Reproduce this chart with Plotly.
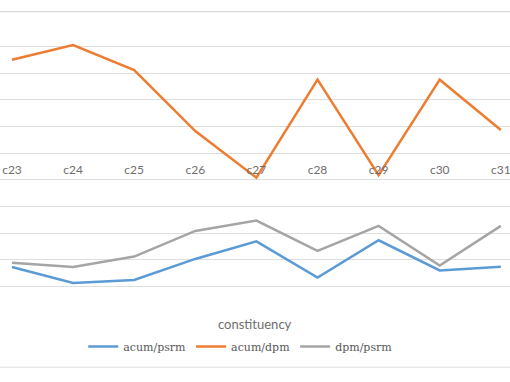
import plotly.graph_objects as go

categories = ["c23", "c24", "c25", "c26", "c27", "c28", "c29", "c30", "c31"]
acum_psrm = [-4.27, -4.87, -4.76, -3.97, -3.31, -4.67, -3.27, -4.40, -4.26]
acum_dpm = [3.51, 4.06, 3.12, 0.83, -0.92, 2.76, -0.83, 2.76, 0.87]
dpm_psrm = [-4.11, -4.27, -3.88, -2.92, -2.53, -3.67, -2.73, -4.22, -2.73]

series = [
    ("acum/psrm", acum_psrm, "#5B9BD5"),
    ("acum/dpm", acum_dpm, "#ED7D31"),
    ("dpm/psrm", dpm_psrm, "#A5A5A5"),
]

fig = go.Figure()
for name, vals, color in series:
    fig.add_trace(go.Scatter(x=categories, y=vals, name=name, mode="lines",
                             line=dict(color=color, width=2.5)))

fig.update_layout(
    width=510, height=382,
    margin=dict(l=0, r=0, t=20, b=69, pad=0),
    paper_bgcolor="white", plot_bgcolor="white",
    showlegend=True,
    legend=dict(orientation="h", x=0.472, xanchor="center", y=-0.114, yanchor="middle",
                font=dict(family="DejaVu Serif", size=11, color="#595959"),
                itemwidth=30, tracegroupgap=0),
    xaxis=dict(type="category", range=[-0.196, 8.15], anchor="free", position=0.5455,
               showline=False, showgrid=False, ticks="", zeroline=False,
               ticklabelstandoff=8,
               tickfont=dict(family="Lato", size=12, color="#6E6E6E")),
    yaxis=dict(range=[-6, 5], dtick=1, showticklabels=False, showgrid=True,
               gridcolor="#DEDEDE", gridwidth=1, zeroline=False, showline=False),
    annotations=[dict(text="constituency", xref="paper", yref="paper", x=0.5, y=-0.039,
                      showarrow=False, xanchor="center", yanchor="middle",
                      font=dict(family="Lato", size=13, color="#6E6E6E"))],
    shapes=[
        dict(type="line", xref="paper", yref="paper", x0=0, x1=1, y0=1.0284, y1=1.0284,
             line=dict(color="#D0D0D0", width=1)),
        dict(type="line", xref="paper", yref="paper", x0=0, x1=1, y0=-0.185, y1=-0.185,
             line=dict(color="#E0E0E0", width=1)),
    ],
)

fig.write_html("out.html", config={"displayModeBar": False},
               post_script="document.body.style.margin='0';document.body.style.padding='0';")
